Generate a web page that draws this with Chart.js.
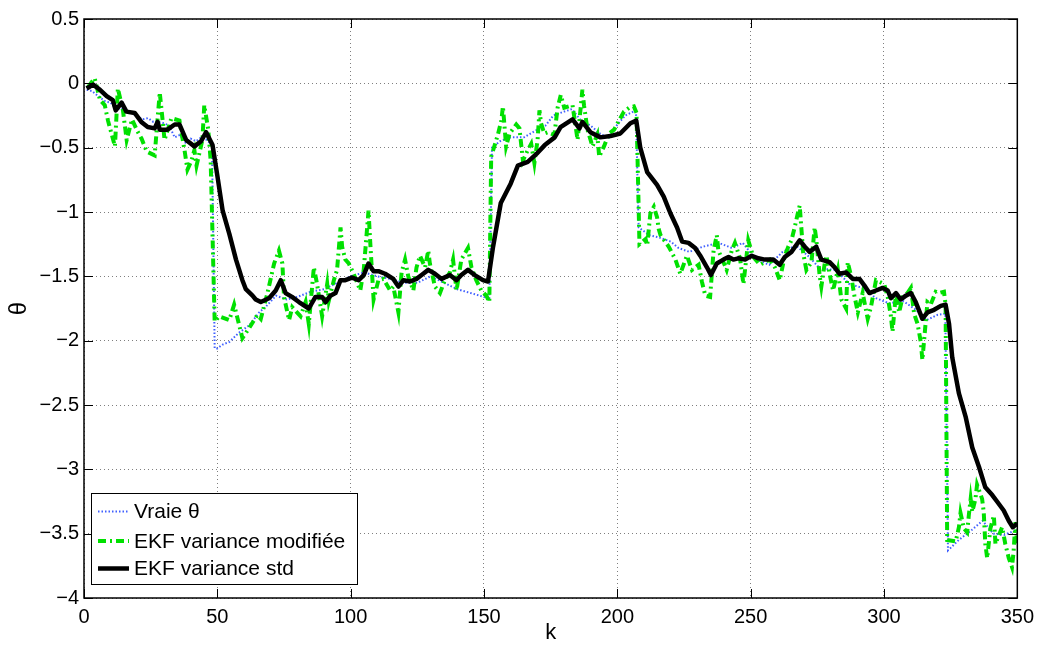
<!DOCTYPE html>
<html>
<head>
<meta charset="utf-8">
<script src="https://cdn.jsdelivr.net/npm/chart.js@4.4.0/dist/chart.umd.min.js"></script>
<style>
  html, body { margin: 0; padding: 0; background: #fff; }
</style>
</head>
<body>
<canvas id="chart" width="1041" height="646"></canvas>
<script>
// series
const kTrue = [1,3,6,8,10,12,14,16,18,20,22,24,26,28,30,32,34,36,38,40,42,44,46,48,49,50,52,54.5,58,62,65.7,68,72,76,80,85,90,95,100,105,110,115,120,125,130,135,140,145,150,152,153,156,160,165,170,173,176,180,183,186,190,194,197,200,203,206,207,208,212,216,220,223,227,232,238,243,247,252,257,262,267,272,276,282,287,292,297,302,307,312,316,320,323,324,328,333,337,341,345,350];
const thetaTrue = [-0.05,-0.06,-0.11,-0.14,-0.15,-0.2,-0.19,-0.22,-0.23,-0.26,-0.28,-0.27,-0.3,-0.3,-0.31,-0.33,-0.42,-0.4,-0.46,-0.43,-0.45,-0.42,-0.44,-0.48,-2.06,-2.06,-2.03,-2.01,-1.94,-1.88,-1.78,-1.74,-1.65,-1.68,-1.66,-1.62,-1.6,-1.55,-1.5,-1.47,-1.5,-1.52,-1.55,-1.55,-1.5,-1.55,-1.6,-1.63,-1.66,-1.68,-0.5,-0.45,-0.42,-0.42,-0.36,-0.33,-0.25,-0.22,-0.2,-0.28,-0.33,-0.4,-0.42,-0.32,-0.25,-0.22,-0.22,-1.12,-1.18,-1.2,-1.23,-1.28,-1.31,-1.27,-1.24,-1.28,-1.24,-1.37,-1.41,-1.31,-1.26,-1.35,-1.44,-1.45,-1.56,-1.59,-1.67,-1.71,-1.69,-1.76,-1.84,-1.8,-1.79,-3.63,-3.55,-3.47,-3.4,-3.5,-3.51,-3.47];

const kMod = [1.5,4,6,7.8,9,11.6,12.7,14.6,16,18,20,21.6,23.5,26.5,28.4,29.5,30.2,32.8,35.8,37.7,38.8,40.3,41.4,42.2,44.4,45.1,46.6,47.5,49,50.7,54.5,56.3,59.4,62,65,66.3,68.8,71.3,73.1,74.4,75,76.9,78.1,81.2,83.1,84.3,86.2,87.4,89.3,91.2,91.8,93.7,94.9,96.2,96.8,98,99.3,101.1,103.6,104.9,106.7,107.3,108.6,110.4,112.3,114.8,116,117.9,119.1,120.4,121.6,123.5,124.7,126,127.9,129.1,129.7,131.6,133.5,135.3,137.2,138.4,139.7,141.5,144,145.3,147.1,149,150.9,152,152.7,155.2,156.5,157.1,158.3,159.6,162.1,163.3,164.6,166.4,167.7,168.9,170.1,170.8,171.4,172.6,173.9,176.4,177.6,178.8,180.1,183.2,185.1,186.9,187.5,188.8,190.7,192.5,193.2,195,196.9,198.8,200.6,202.5,204.4,206.2,207.2,208.3,210.6,211.2,212.4,213.7,214.9,215.5,216.2,219.3,221.8,223.6,226.1,228,230.5,231.7,233,234.8,236.1,237.3,237.9,239.8,241,242.9,244.1,246,247.3,249.1,251,253.5,255.3,257.2,259.1,260.9,262.8,264.1,265.3,266.5,267.8,268.4,269.7,270.9,272.8,274,274.6,275.9,276.5,277.7,278.4,279.6,280.9,282.7,284,285.8,286.4,287.7,288.9,290.2,292,293.9,295.1,297,300.1,301.4,302.6,303.2,304.5,305.7,307,308.8,310.1,311.3,312.6,313.8,314.4,316.3,317.5,319.4,320.6,322.5,323.1,323.7,326.9,328.1,328.7,330,331.2,331.8,332.5,333.1,334.3,334.9,336.8,337.4,338,338.7,339.9,341.2,341.8,344.3,345.5,346.8,348,348.6,349.3,350];
const thetaMod = [-0.03,0.04,-0.13,-0.17,-0.29,-0.49,-0.04,-0.21,-0.44,-0.28,-0.37,-0.43,-0.53,-0.56,-0.07,-0.29,-0.44,-0.27,-0.29,-0.52,-0.67,-0.6,-0.52,-0.64,-0.44,-0.17,-0.36,-0.6,-1.85,-1.81,-1.84,-1.72,-1.98,-1.9,-1.8,-1.83,-1.63,-1.4,-1.3,-1.4,-1.66,-1.84,-1.74,-1.81,-1.7,-1.87,-1.43,-1.56,-1.81,-1.56,-1.69,-1.53,-1.45,-1.12,-1.27,-1.37,-1.4,-1.48,-1.61,-1.45,-0.99,-1.22,-1.68,-1.53,-1.52,-1.61,-1.58,-1.78,-1.47,-1.37,-1.5,-1.61,-1.43,-1.34,-1.43,-1.3,-1.4,-1.58,-1.63,-1.53,-1.47,-1.37,-1.61,-1.37,-1.28,-1.43,-1.53,-1.61,-1.65,-1.7,-0.57,-0.4,-0.29,-0.18,-0.49,-0.39,-0.32,-0.35,-0.6,-0.52,-0.47,-0.62,-0.44,-0.21,-0.31,-0.39,-0.38,-0.4,-0.19,-0.09,-0.19,-0.17,-0.44,-0.05,-0.17,-0.36,-0.49,-0.4,-0.57,-0.49,-0.39,-0.36,-0.29,-0.22,-0.19,-0.18,-0.23,-1.25,-1.21,-1.26,-1.01,-0.96,-1.04,-1.13,-1.18,-1.27,-1.37,-1.48,-1.34,-1.45,-1.41,-1.54,-1.65,-1.66,-1.3,-1.18,-1.3,-1.39,-1.45,-1.3,-1.24,-1.36,-1.56,-1.22,-1.35,-1.41,-1.39,-1.37,-1.43,-1.53,-1.34,-1.27,-1.22,-1.12,-1,-0.95,-1.32,-1.45,-1.39,-1.12,-1.21,-1.5,-1.58,-1.41,-1.34,-1.48,-1.61,-1.45,-1.68,-1.75,-1.39,-1.5,-1.65,-1.78,-1.63,-1.83,-1.74,-1.53,-1.56,-1.66,-1.81,-1.93,-1.63,-1.78,-1.66,-1.63,-1.59,-1.79,-1.87,-2.01,-2.15,-1.7,-1.72,-1.62,-1.63,-1.62,-1.72,-3.55,-3.56,-3.45,-3.34,-3.46,-3.49,-3.36,-3.23,-3.33,-3.23,-3.12,-3.23,-3.33,-3.58,-3.69,-3.46,-3.36,-3.58,-3.45,-3.58,-3.69,-3.76,-3.64,-3.41,-3.6];

const kStd = [1,3.4,6,8.5,10.8,11.9,14.1,15.9,19,21.5,23.9,26.5,27.6,28.4,31.3,34,35.8,38.3,41.4,43.9,45.8,48.2,50.1,52,54.5,57,59.4,60.7,63.2,64.4,66.3,69.4,71.9,73.8,75.6,78,80.6,84.3,86.8,89.3,90.6,92.4,94.3,96.2,98,100.5,103,104.9,106.7,108.6,110.4,112.9,116,117.9,119.8,122.3,124.7,126.6,129.1,131.6,134.1,137.2,139.7,141.5,144,146.5,149.6,151.5,153.4,156.3,160,162.7,166.4,170.1,172.8,176.5,178.7,183.2,185.8,186.9,189.9,193.7,197.4,201.1,204.9,207.1,208.6,211.2,214.9,217.4,219.9,222.4,224.3,226.7,229.2,231.1,233.6,235.1,237.3,239.8,241.7,243.5,245.4,247.9,250.4,252.9,255.3,258.5,260.9,262.8,265.3,268.4,270.3,272.1,274.6,276.5,279.6,281.5,283.3,285.8,288.3,290.8,292.6,294.5,297,299.5,301.4,302.6,304.5,306.3,308.2,310.1,311.9,314.4,316.3,318.8,321.3,323.1,324.4,325.6,328.1,330.6,333.1,335.6,338,340.6,342.4,344.9,346.8,348.3,350];
const thetaStd = [-0.04,-0.01,-0.05,-0.1,-0.13,-0.21,-0.15,-0.22,-0.23,-0.3,-0.34,-0.35,-0.3,-0.36,-0.36,-0.32,-0.32,-0.44,-0.49,-0.45,-0.38,-0.48,-0.73,-0.99,-1.17,-1.37,-1.53,-1.6,-1.65,-1.68,-1.7,-1.67,-1.61,-1.53,-1.63,-1.66,-1.7,-1.75,-1.66,-1.66,-1.7,-1.65,-1.63,-1.53,-1.53,-1.51,-1.53,-1.49,-1.4,-1.46,-1.46,-1.48,-1.52,-1.58,-1.53,-1.54,-1.52,-1.49,-1.45,-1.48,-1.52,-1.49,-1.53,-1.49,-1.45,-1.49,-1.53,-1.54,-1.27,-0.93,-0.78,-0.64,-0.61,-0.54,-0.48,-0.42,-0.34,-0.28,-0.35,-0.3,-0.38,-0.42,-0.41,-0.39,-0.31,-0.29,-0.5,-0.69,-0.79,-0.88,-1.01,-1.12,-1.23,-1.24,-1.28,-1.34,-1.43,-1.49,-1.4,-1.37,-1.35,-1.37,-1.36,-1.37,-1.34,-1.36,-1.37,-1.37,-1.41,-1.35,-1.31,-1.22,-1.27,-1.31,-1.27,-1.37,-1.39,-1.43,-1.48,-1.47,-1.52,-1.52,-1.57,-1.63,-1.61,-1.59,-1.61,-1.67,-1.63,-1.68,-1.65,-1.63,-1.7,-1.83,-1.78,-1.76,-1.73,-1.72,-1.87,-2.13,-2.41,-2.59,-2.83,-2.98,-3.14,-3.2,-3.25,-3.32,-3.4,-3.45,-3.42];

const xTickValues = [0, 50, 100, 150, 200, 250, 300, 350];
const yTickValues = [0.5, 0, -0.5, -1, -1.5, -2, -2.5, -3, -3.5, -4];
const seriesNames = ['Vraie \u03b8', 'EKF variance modifi\u00e9e', 'EKF variance std'];

const FONT = "'Liberation Sans', Arial, Helvetica, sans-serif";
const BLUE = '#4060ff';
const GREEN = '#00e000';

function pts(ks, vs) {
    return ks.map((k, i) => ({ x: k, y: vs[i] }));
}

function fmt(v) {
    return v < 0 ? '\u2212' + Math.abs(v) : String(v);
}

// box round the axes + inward tick marks, matlab style
const framePlugin = {
    id: 'frame',
    afterDatasetsDraw(chart) {
        const ctx = chart.ctx;
        const a = chart.chartArea;
        const xs = chart.scales.x, ys = chart.scales.y;
        const len = 9;
        ctx.save();
        ctx.strokeStyle = '#000';
        ctx.lineWidth = 1.5;
        ctx.strokeRect(a.left, a.top, a.right - a.left, a.bottom - a.top);
        ctx.lineWidth = 1;
        ctx.beginPath();
        xTickValues.forEach(v => {
            const px = Math.round(xs.getPixelForValue(v)) + 0.5;
            ctx.moveTo(px, a.bottom); ctx.lineTo(px, a.bottom - len);
            ctx.moveTo(px, a.top); ctx.lineTo(px, a.top + len);
        });
        yTickValues.forEach(v => {
            const py = Math.round(ys.getPixelForValue(v)) + 0.5;
            ctx.moveTo(a.left, py); ctx.lineTo(a.left + len, py);
            ctx.moveTo(a.right, py); ctx.lineTo(a.right - len, py);
        });
        ctx.stroke();
        ctx.restore();
    },
    afterDraw(chart) {
        // legend box in the lower left corner
        const ctx = chart.ctx;
        const a = chart.chartArea;
        const bx = a.left + 7.5, by = a.bottom - 104.5, bw = 266, bh = 91;
        ctx.save();
        ctx.fillStyle = '#fff';
        ctx.fillRect(bx, by, bw, bh);
        ctx.strokeStyle = '#000';
        ctx.lineWidth = 1;
        ctx.strokeRect(bx, by, bw, bh);
        const rows = [
            { y: by + 18, color: BLUE, width: 2, dash: [1.5, 2] },
            { y: by + 47.5, color: GREEN, width: 4, dash: [8, 4, 2, 4] },
            { y: by + 75, color: '#000', width: 4.5, dash: [] }
        ];
        rows.forEach((r, i) => {
            ctx.beginPath();
            ctx.setLineDash(r.dash);
            ctx.strokeStyle = r.color;
            ctx.lineWidth = r.width;
            ctx.moveTo(bx + 6.5, r.y);
            ctx.lineTo(bx + 37.5, r.y);
            ctx.stroke();
            ctx.setLineDash([]);
            ctx.fillStyle = '#000';
            ctx.font = '21px ' + FONT;
            ctx.textBaseline = 'middle';
            ctx.textAlign = 'left';
            ctx.fillText(seriesNames[i], bx + 42.5, r.y + 1);
        });
        ctx.restore();
    }
};

new Chart(document.getElementById('chart'), {
    type: 'line',
    data: {
        datasets: [{
            label: seriesNames[2],
            data: pts(kStd, thetaStd),
            borderColor: '#000',
            borderWidth: 4.5,
            borderJoinStyle: 'round',
            order: 0
        }, {
            label: seriesNames[1],
            data: pts(kMod, thetaMod),
            borderColor: GREEN,
            borderWidth: 4,
            borderDash: [8, 4, 2, 4],
            order: 1
        }, {
            label: seriesNames[0],
            data: pts(kTrue, thetaTrue),
            borderColor: BLUE,
            borderWidth: 2,
            borderDash: [1.5, 2],
            order: 2
        }]
    },
    options: {
        responsive: false,
        devicePixelRatio: 1,
        animation: false,
        elements: {
            point: { radius: 0 },
            line: { tension: 0, fill: false }
        },
        layout: { padding: { left: 0, top: 19, right: 19, bottom: 0 } },
        plugins: {
            legend: { display: false },
            tooltip: { enabled: false }
        },
        scales: {
            x: {
                type: 'linear',
                min: 0,
                max: 350,
                afterBuildTicks: s => { s.ticks = xTickValues.map(v => ({ value: v })); },
                afterFit: s => { s.height = 48; },
                ticks: {
                    color: '#000',
                    font: { family: FONT, size: 20 },
                    padding: 7,
                    maxRotation: 0,
                    autoSkip: false,
                    callback: v => fmt(v)
                },
                grid: { color: 'rgba(0,0,0,0.5)', lineWidth: 1, drawTicks: false },
                border: { display: false, dash: [1, 3] },
                title: {
                    display: true,
                    text: 'k',
                    color: '#000',
                    font: { family: FONT, size: 22 },
                    padding: { top: 0, bottom: 0 }
                }
            },
            y: {
                type: 'linear',
                min: -4,
                max: 0.5,
                afterBuildTicks: s => { s.ticks = yTickValues.map(v => ({ value: v })); },
                afterFit: s => { s.width = 84; },
                ticks: {
                    color: '#000',
                    font: { family: FONT, size: 20 },
                    padding: 5,
                    autoSkip: false,
                    callback: v => fmt(v)
                },
                grid: { color: 'rgba(0,0,0,0.5)', lineWidth: 1, drawTicks: false },
                border: { display: false, dash: [1, 3] },
                title: {
                    display: true,
                    text: '\u03b8',
                    color: '#000',
                    font: { family: FONT, size: 24 },
                    padding: { top: 5, bottom: 0 }
                }
            }
        }
    },
    plugins: [framePlugin]
});
</script>
</body>
</html>
